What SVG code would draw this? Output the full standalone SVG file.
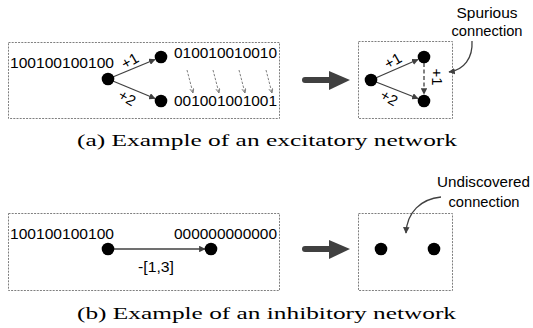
<svg xmlns="http://www.w3.org/2000/svg" width="533" height="328" viewBox="0 0 533 328">
<style>
.box{fill:none;stroke:#7f7f7f;stroke-width:1;stroke-dasharray:2,1.2}
.dot{fill:#000}
.t{font-family:"Liberation Sans",Arial,sans-serif;font-size:15px;fill:#000}
.lbl{font-family:"Liberation Sans",Arial,sans-serif;font-size:15px;fill:#000}
.cap{font-family:"Liberation Serif","Times New Roman",serif;font-size:17px;fill:#000}
.e{stroke:#404040;stroke-width:1.3;fill:none}
.dash{stroke:#404040;stroke-width:1.3;fill:none;stroke-dasharray:4,2.5}
.thin{stroke:#606060;stroke-width:0.8;fill:none;stroke-dasharray:2.5,1.5}
.big{stroke:#404040;stroke-width:6;stroke-linecap:round;fill:none}
</style>
<defs>
<marker id="ah" viewBox="0 0 10 10" refX="9" refY="5" markerWidth="6.5" markerHeight="6.5" markerUnits="userSpaceOnUse" orient="auto"><path d="M0,0 L10,5 L0,10 z" fill="#404040"/></marker>
<marker id="open" viewBox="0 0 10 10" refX="9" refY="5" markerWidth="5" markerHeight="5" markerUnits="userSpaceOnUse" orient="auto"><path d="M0,1 L9,5 L0,9" fill="none" stroke="#606060" stroke-width="1.5"/></marker>
</defs>

<!-- panel frames -->
<rect class="box" x="8.5" y="42.5" width="271" height="76"/>
<rect class="box" x="358.5" y="41.5" width="94" height="77"/>
<rect class="box" x="8.5" y="213.5" width="271" height="77"/>
<rect class="box" x="358.5" y="213.5" width="94" height="77"/>

<!-- connectors -->
<g id="connectors">
<line class="e" x1="108" y1="79" x2="155" y2="59.5" marker-end="url(#ah)"/>
<line class="e" x1="108" y1="79" x2="155" y2="98.5" marker-end="url(#ah)"/>
<line class="thin" x1="187" y1="70" x2="193" y2="93" marker-end="url(#open)"/>
<line class="thin" x1="213" y1="70" x2="219" y2="93" marker-end="url(#open)"/>
<line class="thin" x1="239" y1="70" x2="245" y2="93" marker-end="url(#open)"/>
<line class="thin" x1="266" y1="70" x2="272" y2="93" marker-end="url(#open)"/>
<line class="big" x1="305" y1="80" x2="332" y2="80"/>
<path d="M329,71 L350,80 L329,90 z" fill="#404040"/>
<line class="e" x1="371" y1="80" x2="418" y2="59.5" marker-end="url(#ah)"/>
<line class="e" x1="371" y1="80" x2="418" y2="98.5" marker-end="url(#ah)"/>
<line class="dash" x1="424" y1="63" x2="424" y2="94" marker-end="url(#ah)"/>
<path class="e" d="M472,41 C473,58 464,70 449,72" marker-end="url(#ah)"/>
<line class="e" x1="108" y1="249" x2="205" y2="249" marker-end="url(#ah)"/>
<line class="big" x1="305" y1="249" x2="332" y2="249"/>
<path d="M329,240 L350,249 L329,259 z" fill="#404040"/>
<path class="e" d="M441,197 C421,199 407,212 406,233" marker-end="url(#ah)"/>
</g>

<!-- panel a left -->
<g id="a-src"><circle class="dot" cx="108" cy="79" r="6.3"/><text class="t" x="10" y="68" textLength="104" lengthAdjust="spacingAndGlyphs">100100100100</text></g>
<g id="a-top"><circle class="dot" cx="161" cy="57" r="6.3"/><text class="t" x="174" y="58" textLength="103" lengthAdjust="spacingAndGlyphs">010010010010</text></g>
<g id="a-bot"><circle class="dot" cx="161" cy="101" r="6.3"/><text class="t" x="174" y="106" textLength="103" lengthAdjust="spacingAndGlyphs">001001001001</text></g>
<text class="lbl" transform="translate(130,61) rotate(-30)" text-anchor="middle" dy="5">+1</text>
<text class="lbl" transform="translate(127,98) rotate(30)" text-anchor="middle" dy="5">+2</text>

<!-- panel a right -->
<g id="ar-src"><circle class="dot" cx="371" cy="80" r="6.3"/></g>
<g id="ar-top"><circle class="dot" cx="424" cy="57" r="6.3"/></g>
<g id="ar-bot"><circle class="dot" cx="424" cy="101" r="6.3"/></g>
<text class="lbl" transform="translate(393,61) rotate(-30)" text-anchor="middle" dy="5">+1</text>
<text class="lbl" transform="translate(389,98) rotate(30)" text-anchor="middle" dy="5">+2</text>
<text class="lbl" transform="translate(437,77) rotate(90)" text-anchor="middle" dy="5">+1</text>
<g id="spurious"><text class="lbl" x="487" y="18" text-anchor="middle" textLength="61" lengthAdjust="spacingAndGlyphs">Spurious</text><text class="lbl" x="487" y="36" text-anchor="middle" textLength="71" lengthAdjust="spacingAndGlyphs">connection</text></g>

<text class="cap" x="77" y="146" textLength="380" lengthAdjust="spacingAndGlyphs">(a) Example of an excitatory network</text>

<!-- panel b left -->
<g id="b-src"><circle class="dot" cx="108" cy="249" r="6.3"/><text class="t" x="10" y="239" textLength="104" lengthAdjust="spacingAndGlyphs">100100100100</text></g>
<g id="b-dst"><circle class="dot" cx="211" cy="249" r="6.3"/><text class="t" x="174" y="239" textLength="103" lengthAdjust="spacingAndGlyphs">000000000000</text></g>
<text class="lbl" x="156" y="272" text-anchor="middle" textLength="36" lengthAdjust="spacingAndGlyphs">-[1,3]</text>

<!-- panel b right -->
<g id="br-a"><circle class="dot" cx="381" cy="249" r="6.3"/></g>
<g id="br-b"><circle class="dot" cx="434" cy="249" r="6.3"/></g>
<g id="undiscovered"><text class="lbl" x="483.5" y="187" text-anchor="middle" textLength="93" lengthAdjust="spacingAndGlyphs">Undiscovered</text><text class="lbl" x="484" y="207" text-anchor="middle" textLength="71" lengthAdjust="spacingAndGlyphs">connection</text></g>

<text class="cap" x="77" y="319" textLength="379" lengthAdjust="spacingAndGlyphs">(b) Example of an inhibitory network</text>
</svg>
